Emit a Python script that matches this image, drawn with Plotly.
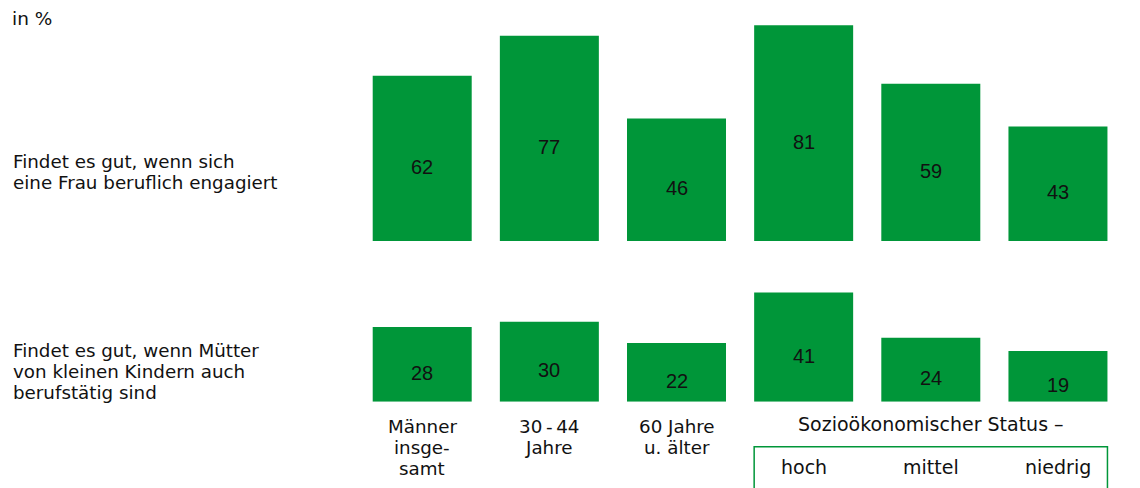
import plotly.graph_objects as go

# ---- data ----
categories = ["Männer insgesamt", "30-44 Jahre", "60 Jahre u. älter", "hoch", "mittel", "niedrig"]
values_1 = [62, 77, 46, 81, 59, 43]
values_2 = [28, 30, 22, 41, 24, 19]
row_labels_1 = ["Findet es gut, wenn sich", "eine Frau beruflich engagiert"]
row_labels_2 = ["Findet es gut, wenn Mütter", "von kleinen Kindern auch", "berufstätig sind"]
group_label_lines = [["Männer", "insge-", "samt"], ["30\u2009-\u200944", "Jahre"], ["60 Jahre", "u. älter"]]
status_title = "Sozioökonomischer Status –"
status_labels = ["hoch", "mittel", "niedrig"]
unit_label = "in %"

# ---- layout geometry (window pixels) ----
OFF = 8  # page body margin
W, H = 1140 - OFF, 488 - OFF
GREEN = "#009639"
TXT = "#111111"
FONT = "DejaVu Sans"
NUMFONT = "Liberation Sans"
LBL = 18.3
LSP = 21.3
pitch = 127.15
c0 = 422.2
bar_w_px = 99
bargap = 1 - bar_w_px / pitch
scale = 2.665  # px per percent
base1, base2 = 241.0, 401.7
r1, r2 = 85, 45


def py(p):
    return 1 - (p - OFF) / H


def px(p):
    return (p - OFF) / W


xs = list(range(len(categories)))
xdom = [px(c0 - pitch / 2), px(c0 + pitch * 5.5)]

fig = go.Figure()
fig.add_trace(go.Bar(x=xs, y=values_1, marker=dict(color=GREEN, line=dict(width=0)),
                     xaxis="x", yaxis="y", hoverinfo="skip"))
fig.add_trace(go.Bar(x=xs, y=values_2, marker=dict(color=GREEN, line=dict(width=0)),
                     xaxis="x2", yaxis="y2", hoverinfo="skip"))

ann = []
# value labels
for i, v in enumerate(values_1):
    ann.append(dict(x=i, y=v / 2, xref="x", yref="y", text=str(v), showarrow=False,
                    yshift=-8.5, font=dict(family=NUMFONT, size=20, color=TXT)))
for i, v in enumerate(values_2):
    ann.append(dict(x=i, y=v / 2, xref="x2", yref="y2", text=str(v), showarrow=False,
                    yshift=-8.5, font=dict(family=NUMFONT, size=20, color=TXT)))

# unit label
ann.append(dict(x=px(10), y=py(18), xref="paper", yref="paper", text=unit_label, showarrow=False,
                xanchor="left", yanchor="middle", font=dict(family=FONT, size=18.5, color=TXT)))

# row labels
for k, line in enumerate(row_labels_1):
    ann.append(dict(x=px(11), y=py(161.5 + LSP * k), xref="paper", yref="paper", text=line,
                    showarrow=False, xanchor="left", yanchor="middle",
                    font=dict(family=FONT, size=LBL, color=TXT)))
for k, line in enumerate(row_labels_2):
    ann.append(dict(x=px(11), y=py(350 + LSP * k), xref="paper", yref="paper", text=line,
                    showarrow=False, xanchor="left", yanchor="middle",
                    font=dict(family=FONT, size=LBL, color=TXT)))

# category labels
for i, lines in enumerate(group_label_lines):
    for k, line in enumerate(lines):
        ann.append(dict(x=i, y=py(426 + LSP * k), xref="x2", yref="paper", text=line,
                        showarrow=False, xanchor="center", yanchor="middle",
                        font=dict(family=FONT, size=LBL, color=TXT)))
ann.append(dict(x=4, y=py(424), xref="x2", yref="paper", text=status_title, showarrow=False,
                xanchor="center", yanchor="middle", font=dict(family=FONT, size=19, color=TXT)))
for k, lab in enumerate(status_labels):
    ann.append(dict(x=3 + k, y=py(466.5), xref="x2", yref="paper", text=lab, showarrow=False,
                    xanchor="center", yanchor="middle", font=dict(family=FONT, size=19, color=TXT)))

bw = 1 - bargap
shapes = [dict(type="rect", xref="x2", yref="paper", x0=3 - bw / 2, x1=5 + bw / 2,
               y0=py(446.7), y1=-0.2, line=dict(color=GREEN, width=1.5), fillcolor="rgba(0,0,0,0)")]

axis_common = dict(visible=False, showgrid=False, zeroline=False, fixedrange=True)
fig.update_layout(
    width=W, height=H,
    margin=dict(l=0, r=0, t=0, b=0),
    paper_bgcolor="white", plot_bgcolor="white",
    showlegend=False, bargap=bargap,
    xaxis=dict(domain=xdom, range=[-0.5, 5.5], anchor="y", **axis_common),
    xaxis2=dict(domain=xdom, range=[-0.5, 5.5], anchor="y2", **axis_common),
    yaxis=dict(domain=[py(base1), py(base1 - r1 * scale)], range=[0, r1], anchor="x", **axis_common),
    yaxis2=dict(domain=[py(base2), py(base2 - r2 * scale)], range=[0, r2], anchor="x2", **axis_common),
    annotations=ann, shapes=shapes,
)

fig.write_html("out.html", config={"displayModeBar": False})
